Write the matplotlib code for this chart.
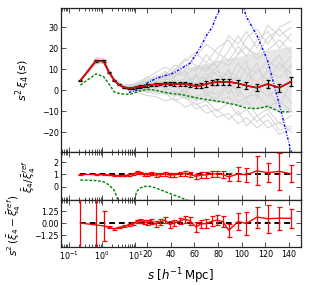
import numpy as np
import matplotlib
matplotlib.use('Agg')
import matplotlib.pyplot as plt
from matplotlib.ticker import FixedLocator, FixedFormatter, NullFormatter

# ---------------- data ----------------
s = [0.22, 0.65, 1.1, 1.6, 2.3, 3.2, 4.5, 6.3, 8.5, 11, 14, 17, 20, 23.5, 27, 31, 35, 39,
     43, 47.5, 52, 56.5, 61, 65.5, 70, 75, 79, 84, 89, 97, 104, 113, 122, 132, 142]

# reference (mean of mocks) s^2 xi_4 with errors
ref_main = [4.6, 14.0, 14.0, 8.5, 4.8, 2.6, 1.5, 1.0, 1.2, 1.5, 1.8, 2.0, 2.3, 2.6, 2.8, 3.0,
            3.0, 3.1, 3.0, 3.1, 3.0, 2.5, 2.0, 2.3, 3.0, 3.5, 4.0, 4.0, 4.0, 3.3, 2.2, 1.2,
            3.0, 1.2, 4.2]
ref_err = [0.3, 0.5, 0.5, 0.4, 0.3, 0.3, 0.3, 0.3, 0.4, 0.4, 0.5, 0.5, 0.6, 0.6, 0.7, 0.7,
           0.8, 0.8, 0.9, 0.9, 1.0, 1.0, 1.1, 1.1, 1.2, 1.2, 1.3, 1.3, 1.4, 1.5, 1.6, 1.7,
           1.8, 1.9, 2.0]
# measured s^2 xi_4
meas_main = [4.6, 13.8, 13.7, 8.3, 4.7, 2.5, 1.4, 1.0, 1.2, 1.5, 1.8, 2.0, 2.3, 2.6, 2.8, 3.0,
             3.0, 3.1, 3.0, 3.1, 3.0, 2.5, 2.0, 2.3, 3.0, 3.5, 4.0, 4.0, 4.0, 3.3, 2.2, 1.2,
             3.0, 1.2, 4.2]
green_main = [2.5, 7.8, 6.5, 3.0, -0.8, -1.5, -1.8, -1.9, -1.5, -0.8, -0.3, 0.1, 0.4, 0.3, 0.0,
              -0.5, -1.0, -1.4, -1.7, -2.0, -2.4, -3.0, -3.5, -4.0, -4.4, -4.8, -5.1, -5.6,
              -6.2, -7.2, -8.5, -8.7, -7.6, -10.2, -10.3]
s_blue = [6.3, 8.5, 11, 14, 17, 20, 23.5, 27, 31, 35, 39, 43, 47.5, 52, 56.5, 61, 65.5, 70,
          75, 79, 84, 89, 97, 104, 113, 122, 132, 142]
blue_main = [-1.0, -0.5, 0.0, 1.0, 2.0, 3.5, 4.5, 5.5, 6.3, 7.0, 7.5, 8.5, 10.0, 11.5, 13.0,
             17.0, 21.0, 26.0, 30.0, 36.0, 41.0, 48.0, 48.0, 35.0, 26.0, 14.0, -7.0, -29.5]

# mock realisations (grey)
s_mock = [0.22, 0.65, 1.1, 2.3, 4.5, 8.5, 14, 20, 27, 35, 43, 52, 61, 70, 79, 89, 97, 104,
          113, 122, 132, 142]
mocks = [
    [5.0, 15.5, 15.0, 5.5, 2.5, 2.8, 4.5, 6.0, 8.5, 11.0, 9.0, 14.0, 18.0, 13.0, 20.0, 24.0, 17.0, 25.0, 29.0, 22.0, 30.0, 33.0],
    [4.2, 12.5, 13.0, 4.0, 0.5, -0.5, -1.5, -2.5, -3.0, -5.0, -4.0, -8.0, -6.0, -11.0, -9.0, -14.0, -10.0, -17.0, -12.0, -18.0, -15.0, -20.0],
    [4.8, 14.8, 14.5, 5.2, 2.0, 2.0, 3.5, 5.0, 4.0, 7.0, 12.0, 10.0, 16.0, 22.0, 18.0, 14.0, 21.0, 16.0, 24.0, 28.0, 20.0, 27.0],
    [4.4, 13.2, 13.5, 4.4, 1.0, 0.5, 0.0, -1.0, 1.0, -2.0, 0.0, -4.0, -3.0, -1.0, -6.0, -3.0, -8.0, -5.0, -12.0, -9.0, -16.0, -12.0],
    [4.7, 14.3, 14.2, 5.0, 1.8, 1.8, 2.8, 4.0, 6.0, 5.0, 8.0, 7.0, 11.0, 9.0, 14.0, 12.0, 17.0, 21.0, 15.0, 19.0, 24.0, 18.0],
    [4.5, 13.7, 13.8, 4.6, 1.2, 1.0, 1.0, 1.5, -1.0, 0.0, -3.0, 1.0, -5.0, -2.0, -4.0, 2.0, -6.0, -3.0, -2.0, -8.0, -5.0, -10.0],
    [4.9, 15.0, 14.8, 5.3, 2.2, 2.4, 3.8, 3.0, 5.5, 9.0, 6.0, 12.0, 9.0, 17.0, 11.0, 19.0, 26.0, 20.0, 17.0, 25.0, 29.0, 23.0],
    [4.3, 13.0, 13.2, 4.2, 0.8, 0.2, -0.5, 0.5, 2.0, 1.0, -1.0, -2.0, -7.0, -5.0, -10.0, -6.0, -12.0, -9.0, -15.0, -11.0, -19.0, -17.0],
    [4.6, 14.1, 14.1, 4.9, 1.6, 1.5, 2.5, 2.0, 4.0, 3.0, 5.0, 4.0, 7.0, 5.0, 9.0, 7.0, 4.0, 11.0, 8.0, 14.0, 10.0, 16.0],
    [4.6, 13.9, 13.9, 4.7, 1.4, 1.0, 1.2, 2.8, 1.5, 4.5, 2.0, 6.0, 3.0, 8.0, 4.0, 9.0, 6.0, 3.0, 10.0, 5.0, 13.0, 8.0],
    [4.5, 14.2, 14.0, 4.8, 1.3, 1.4, 2.2, 1.0, 3.0, 0.0, 2.0, -1.0, 4.0, 0.0, -2.0, 3.0, 0.0, -4.0, 2.0, -3.0, 1.0, -6.0],
    [4.7, 14.4, 14.3, 5.1, 1.9, 2.2, 3.0, 4.5, 7.0, 6.0, 10.0, 15.0, 12.0, 10.0, 15.0, 26.0, 22.0, 28.0, 20.0, 31.0, 26.0, 30.0],
    [4.4, 13.5, 13.6, 4.5, 1.1, 0.8, 0.5, -0.5, -2.0, -1.0, -5.0, -3.0, -9.0, -7.0, -13.0, -11.0, -16.0, -13.0, -18.0, -14.0, -21.0, -18.0],
    [4.6, 14.0, 14.0, 4.8, 1.5, 1.2, 1.8, 3.5, 2.5, 5.5, 4.0, 2.0, 6.0, 12.0, 7.0, 5.0, 13.0, 8.0, 4.0, 9.0, 6.0, 12.0],
    [4.5, 13.6, 14.4, 5.0, 1.7, 1.1, 2.0, 0.0, 5.0, 2.0, 7.0, 9.0, 2.0, 6.0, 11.0, -2.0, 9.0, 14.0, -4.0, 11.0, 17.0, 2.0],
    [4.7, 14.6, 13.8, 4.6, 1.3, 1.7, 3.2, 6.5, 3.0, 8.0, 3.0, -2.0, 8.0, -3.0, 2.0, 10.0, -3.0, 6.0, 13.0, 0.0, -8.0, 5.0],
]
band_lo = [4.1, 13.0, 13.1, 4.1, 0.9, 0.4, 0.0, -0.3, -1.0, -1.8, -2.5, -3.5, -4.5, -5.0, -5.5, -6.5, -7.0, -7.5, -8.5, -9.0, -9.5, -10.0]
band_hi = [5.1, 15.0, 14.9, 5.5, 2.2, 2.3, 3.5, 5.0, 6.5, 8.0, 9.0, 10.5, 12.0, 13.0, 14.0, 15.5, 16.0, 17.0, 18.0, 19.0, 20.0, 21.0]

# ratio panel
ratio = [1.0, 1.0, 0.98, 0.95, 0.93, 0.9, 0.9, 0.95, 1.05, 1.15, 1.1, 1.0, 1.0, 1.05, 0.95,
         1.0, 1.05, 0.95, 0.98, 1.02, 1.08, 1.0, 0.85, 0.95, 0.97, 1.05, 1.05, 1.0, 0.8, 1.05,
         0.97, 1.3, 1.15, 1.25, 1.05]
ratio_err = [0.02, 0.02, 0.03, 0.03, 0.04, 0.05, 0.06, 0.07, 0.08, 0.1, 0.1, 0.1, 0.12, 0.12,
             0.13, 0.14, 0.15, 0.15, 0.16, 0.17, 0.18, 0.2, 0.2, 0.22, 0.22, 0.25, 0.25, 0.28,
             0.35, 0.55, 0.55, 1.2, 0.8, 1.5, 0.7]
green_ratio = [0.55, 0.5, 0.4, 0.15, -0.3, -1.3, -2.5, -2.5, -1.5, -0.4, -0.1, 0.0, 0.05, 0.0,
               -0.1, -0.25, -0.4, -0.55, -0.7, -0.85, -1.05, -1.2, -1.4, -1.6, -1.8, -2.0,
               -2.2, -2.4, -2.6, -2.8, -3.0, -4.0, -3.0, -5.0, -4.5]

# difference panel
diff = [0.0, -0.2, -0.3, -0.45, -0.6, -0.45, -0.35, -0.2, -0.05, 0.15, 0.25, 0.1, 0.05, 0.2,
        -0.1, 0.1, 0.3, -0.15, 0.0, 0.2, 0.4, 0.2, -0.4, -0.1, -0.05, 0.2, 0.3, 0.15, -0.75,
        0.15, -0.05, 0.62, 0.45, 0.5, 0.5]
diff_err = [5.0, 5.0, 1.6, 0.1, 0.08, 0.08, 0.1, 0.12, 0.15, 0.18, 0.2, 0.22, 0.25, 0.27, 0.28,
            0.3, 0.3, 0.32, 0.33, 0.35, 0.38, 0.4, 0.5, 0.45, 0.5, 0.5, 0.55, 0.6, 0.7, 0.9,
            1.2, 1.1, 1.45, 1.2, 1.0]

xtick_vals = [0.1, 1, 10, 20, 40, 60, 80, 100, 120, 140]
xtick_labels = ['$10^{-1}$', '$10^{0}$', '$10^{1}$', '20', '40', '60', '80', '100', '120', '140']
xminor_vals = [0.06, 0.07, 0.08, 0.09, 0.2, 0.3, 0.4, 0.5, 0.6, 0.7, 0.8, 0.9,
               2, 3, 4, 5, 6, 7, 8, 9]

# ---------------- hybrid log/linear scale ----------------
BREAK = 10.0
K = 28.2


def fwd(x):
    x = np.asarray(x, dtype=float)
    with np.errstate(all='ignore'):
        lg = np.log10(np.clip(x, 1e-12, None))
    return np.where(x <= BREAK, lg, 1.0 + (x - BREAK) / K)


def inv(t):
    t = np.asarray(t, dtype=float)
    return np.where(t <= 1.0, 10.0 ** np.clip(t, -30, 1.0), BREAK + (t - 1.0) * K)


plt.rcParams['font.family'] = ['DejaVu Sans']
plt.rcParams['mathtext.fontset'] = 'dejavusans'

W, H = 311, 285
fig = plt.figure(figsize=(W / 100, H / 100), dpi=100)


def box(top, bottom, left=61.3, right=300.7):
    return [left / W, 1 - bottom / H, (right - left) / W, (bottom - top) / H]


ax1 = fig.add_axes(box(8, 152))
ax2 = fig.add_axes(box(152, 200))
ax3 = fig.add_axes(box(200, 247))

XMIN, XMAX = 0.059, 150
TS = 5.8
for ax in (ax1, ax2, ax3):
    ax.set_xscale('function', functions=(fwd, inv))
    ax.set_xlim(XMIN, XMAX)
    ax.xaxis.set_major_locator(FixedLocator(xtick_vals))
    ax.xaxis.set_minor_locator(FixedLocator(xminor_vals))
    ax.xaxis.set_minor_formatter(NullFormatter())
    ax.tick_params(which='both', direction='in', top=True, right=True, labelsize=TS,
                   width=0.6, color='#333333', pad=2)
    ax.tick_params(which='major', length=3.5)
    ax.tick_params(which='minor', length=2)
    for sp in ax.spines.values():
        sp.set_linewidth(0.9)
        sp.set_color('#222222')

ax3.xaxis.set_major_formatter(FixedFormatter(xtick_labels))
ax1.xaxis.set_major_formatter(NullFormatter())
ax2.xaxis.set_major_formatter(NullFormatter())

span = float(fwd(XMAX) - fwd(XMIN))
x0 = float(fwd(s[0]) - fwd(XMIN)) / span
x1 = float(fwd(s[-1]) - fwd(XMIN)) / span

# ---- main panel ----
ax1.fill_between(s_mock, band_lo, band_hi, color='#e6e6e6', lw=0, zorder=1)
for m in mocks:
    ax1.plot(s_mock, m, color='#d3d3d3', lw=0.7, zorder=1.5)
ax1.errorbar(s, ref_main, yerr=ref_err, color='black', lw=1.1, capsize=1.6,
             elinewidth=0.9, capthick=0.9, zorder=3)
ax1.plot(s, meas_main, color='red', lw=1.0, zorder=4)
ax1.plot(s, green_main, color='green', lw=1.0, ls=(0, (2, 1.2)), zorder=2.5)
ax1.plot(s_blue, blue_main, color='blue', lw=1.0, ls=(0, (1.8, 1.2, 0.6, 1.2)), zorder=2.5)
ax1.set_ylim(-29.4, 39.2)
ax1.yaxis.set_major_locator(FixedLocator([-20, -10, 0, 10, 20, 30]))
ax1.set_ylabel(r'$s^2\,\xi_4\,(s)$', fontsize=8)
ax1.yaxis.set_label_coords(-0.122, 0.5)

# ---- ratio panel ----
ax2.axhline(1.0, color='black', lw=1.4, ls=(0, (3, 2)), zorder=3, xmin=x0, xmax=x1)
ax2.errorbar(s, ratio, yerr=ratio_err, color='red', lw=1.0, capsize=1.8,
             elinewidth=0.9, capthick=0.9, zorder=4)
ax2.plot(s, green_ratio, color='green', lw=1.0, ls=(0, (2, 1.2)), zorder=2.5)
ax2.set_ylim(-1.09, 2.84)
ax2.yaxis.set_major_locator(FixedLocator([0, 1, 2]))
ax2.set_ylabel(r'$\bar{\xi}_4/\bar{\xi}_4^{ref}$', fontsize=7.5)
ax2.yaxis.set_label_coords(-0.097, 0.5)

# ---- difference panel ----
ax3.axhline(0.0, color='black', lw=1.4, ls=(0, (3, 2)), zorder=3, xmin=x0, xmax=x1)
ax3.errorbar(s, diff, yerr=diff_err, color='red', lw=1.0, capsize=1.8,
             elinewidth=0.9, capthick=0.9, zorder=4)
ax3.set_ylim(-2.5, 2.4)
ax3.yaxis.set_major_locator(FixedLocator([-1.25, 0.0, 1.25]))
ax3.yaxis.set_major_formatter(FixedFormatter(['\u22121.25', '0.00', '1.25']))
ax3.set_ylabel(r'$s^2\,(\bar{\xi}_4-\bar{\xi}_4^{ref})$', fontsize=7.5)
ax3.yaxis.set_label_coords(-0.16, 0.47)
ax3.set_xlabel(r'$s\ [h^{-1}\,\mathrm{Mpc}]$', fontsize=8.5, labelpad=3)

fig.savefig('out.png', dpi=100)
